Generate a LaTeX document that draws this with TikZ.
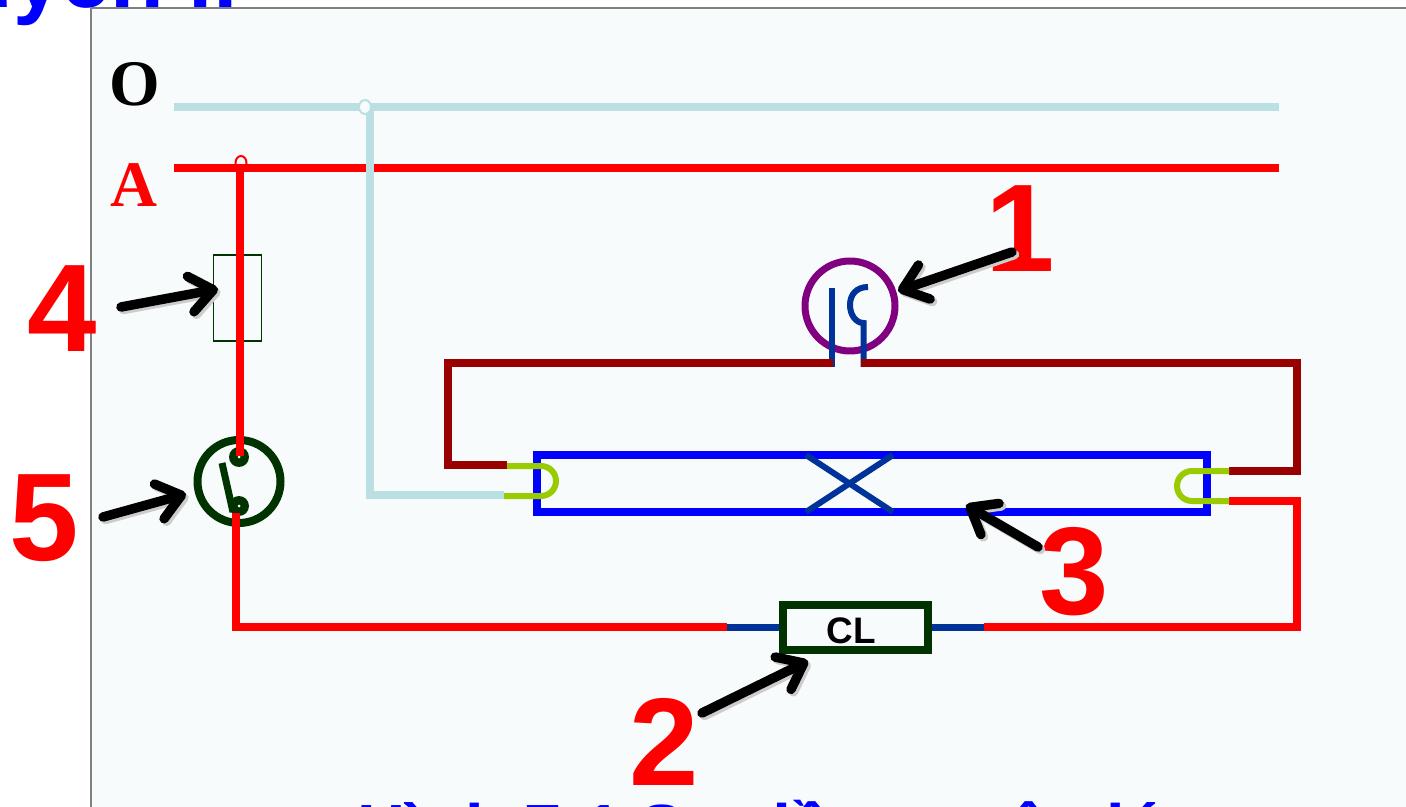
\documentclass[tikz,border=0pt]{standalone}
\usepackage{fontspec}
\setmainfont{Liberation Sans}
\newfontfamily\serifbold{Liberation Serif}
\usepackage{tikz}
\usetikzlibrary{arrows.meta,positioning,shapes.geometric}
\definecolor{panelbg}{HTML}{F7FBFC}
\definecolor{neutralc}{HTML}{BBE0E3}
\definecolor{darkred}{HTML}{990000}
\definecolor{navyc}{HTML}{003399}
\definecolor{limec}{HTML}{99CC00}
\definecolor{forestc}{HTML}{003300}
\definecolor{purplec}{HTML}{800080}
\begin{document}
\begin{tikzpicture}[x=0.02cm,y=-0.02cm,
        wire/.style={line width=0.16cm, line join=miter},
        hotwire/.style={wire, draw=red},
        zerowire/.style={wire, draw=neutralc},
        brownwire/.style={wire, draw=darkred},
        leadwire/.style={line width=0.12cm, draw=navyc},
        pinwire/.style={line width=0.12cm, draw=limec, rounded corners=0.3cm},
        numlabel/.style={text=red, font=\fontsize{71}{71}\selectfont\bfseries, inner sep=0pt},
        linelabel/.style={font=\serifbold\fontsize{37}{37}\selectfont\bfseries, inner sep=0pt},
        pointer/.style={draw=black, line width=0.19cm, line cap=round, -{Straight Barb[length=0.46cm,width=0.72cm,line width=0.19cm,round]}},
        pointershade/.style={pointer, draw=gray!40, transform canvas={shift={(0.05cm,-0.05cm)}}},
        titletext/.style={text=blue, font=\fontsize{50}{50}\selectfont\bfseries, inner sep=0pt}
    ]
        \useasboundingbox (0,0) rectangle (1406,807);
        \clip (0,0) rectangle (1406,807);
        % Panel
        \fill[white] (0,0) rectangle (1406,807);
        % Clipped headings
        \node[titletext, anchor=base east] (heading) at (238,8) {Nguyên lí};
        \fill[panelbg] (91,8) rectangle (1406,807);
        \draw[gray, line width=0.03cm] (91,807) -- (91,8) -- (1406,8);
        \node[titletext, anchor=base, font=\fontsize{38}{38}\selectfont\bfseries] (caption) at (760,851) {Hình 7-1 Sơ đồ nguyên lý};
        % Line labels
        \node[linelabel] (labelO) at (135,84) {O};
        \node[linelabel, text=red] (labelA) at (134,185) {A};
        \coordinate (zeroL) at (174,107.5);
        \coordinate (zeroR) at (1279,107.5);
        \coordinate (hotL) at (174,168.5);
        \coordinate (hotR) at (1279,168.5);
        \coordinate (jointO) at (365,107);
        \coordinate (jointA) at (241,163);
        \coordinate (tapA) at (239.5,165);
        \draw[hotwire] (hotL) -- (hotR);
        \draw[zerowire] (zeroL) -- (zeroR);
        % Tube
        \node[draw=blue, line width=0.16cm, minimum width=13.4cm, minimum height=1.14cm, inner sep=0pt] (tube) at (872,483.5) {};
        \draw[leadwire] (806,455) -- (893,512);
        \draw[leadwire] (806,512) -- (893,455);
        % Starter
        \node[circle, draw=purplec, line width=0.14cm, minimum size=1.8cm, inner sep=0pt] (starter) at (850,306) {};
        \draw[leadwire] (832,288) -- (832,367);
        \draw[leadwire] (863.5,367) -- (863.5,323) .. controls (856,323) and (850,315) .. (850,305) .. controls (850,295) and (856,287) .. (868,287);
        % Ballast
        \draw[leadwire, line width=0.14cm] (727,627) -- (984,627);
        \node[draw=forestc, fill=panelbg, line width=0.16cm, minimum width=2.9cm, minimum height=0.9cm, inner sep=0pt] (ballast) at (855.5,627.5) {};
        \node[font=\fontsize{21}{21}\selectfont\bfseries, inner sep=0pt] (ballasttext) at (851,631) {CL};
        % Fuse
        \node[draw=forestc, line width=0.03cm, minimum width=0.96cm, minimum height=1.72cm, inner sep=0pt] (fuse) at (237.5,298) {};
        % Switch
        \node[circle, draw=forestc, line width=0.16cm, minimum size=1.66cm, inner sep=0pt] (switch) at (239,481.5) {};
        \node[circle, fill=forestc, minimum size=0.4cm, inner sep=0pt] (contactT) at (239,457) {};
        \node[circle, fill=forestc, minimum size=0.4cm, inner sep=0pt] (contactB) at (239,506) {};
        \draw[forestc, line width=0.14cm] (222,463) -- (233,512);
        \fill[white] (contactT) circle (1.5);
        \fill[white] (contactB) circle (1.5);
        % Wires
        \draw[hotwire] (tapA) -- (239.5,456);
        \draw[hotwire] (236,513) -- (236,627) -- (727,627);
        \draw[hotwire] (984,627) -- (1296.5,627) -- (1296.5,501) -- (1229,501);
        \draw[brownwire] (833,363) -- (448,363) -- (448,465) -- (507,465);
        \draw[brownwire] (861,363) -- (1296.5,363) -- (1296.5,471) -- (1229,471);
        \draw[zerowire] (370,107.5) -- (370,495) -- (504,495);
        % Tube pins
        \draw[pinwire] (507,466) -- (556,466) -- (556,496) -- (504,496);
        \draw[pinwire] (1229,471) -- (1177,471) -- (1177,501) -- (1229,501);
        % Joints
        \draw[neutralc, fill=panelbg, line width=0.04cm] (jointO) ellipse (6 and 7);
        \draw[red, line width=0.04cm] (jointA) ellipse (5.5 and 7);
        % Number labels
        \node[numlabel] (num1) at (1020,229) {1};
        \node[numlabel] (num2) at (664,742) {2};
        \node[numlabel] (num3) at (1074,572) {3};
        \node[numlabel] (num4) at (62,309) {4};
        \node[numlabel] (num5) at (44,518) {5};
        % Pointers
        \coordinate (tail1) at (1012,252);
        \coordinate (tip1) at (898,291);
        \coordinate (tail2) at (702,713);
        \coordinate (tip2) at (808,661);
        \coordinate (tail3) at (1038,547);
        \coordinate (tip3) at (966,505);
        \coordinate (tail4) at (121,307);
        \coordinate (tip4) at (218,289);
        \coordinate (tail5) at (103,517);
        \coordinate (tip5) at (186,494);
        \foreach \n in {1,...,5} {
            \draw[pointershade] (tail\n) -- (tip\n);
            \draw[pointer] (tail\n) -- (tip\n);
        }
    \end{tikzpicture}
\end{document}
